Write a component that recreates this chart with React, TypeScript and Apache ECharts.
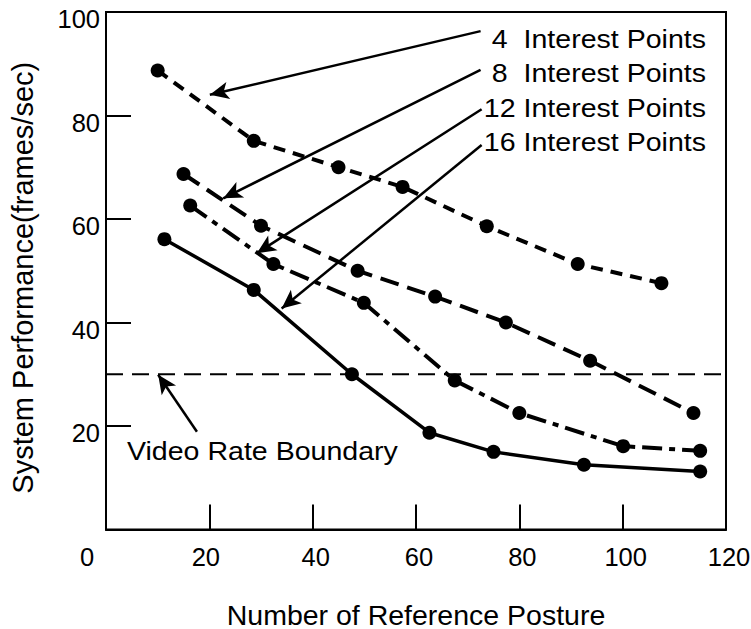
import React, { useEffect, useRef } from "react";
import * as echarts from "echarts";

// Number of reference postures (x) and frame rate (y) for each interest-point count
const x4 = [10, 28.6, 45, 57.4, 73.7, 91.3, 107.5];
const y4 = [88.7, 75.1, 70.0, 66.2, 58.6, 51.3, 47.6];

const x8 = [15, 30, 48.7, 63.7, 77.4, 93.7, 113.7];
const y8 = [68.7, 58.7, 50.0, 45.0, 40.0, 32.6, 22.5];

const x12 = [16.3, 32.4, 49.9, 67.5, 80.0, 100.1, 115.0];
const y12 = [62.6, 51.3, 43.8, 28.8, 22.5, 16.1, 15.2];

const x16 = [11.3, 28.6, 47.6, 62.6, 75.0, 92.5, 115.0];
const y16 = [56.1, 46.3, 30.0, 18.7, 15.0, 12.5, 11.2];

const seriesNames = ["4  Interest Points", "8  Interest Points", "12 Interest Points", "16 Interest Points"];

// Video rate threshold (frames/sec)
const VIDEO_RATE = 30;

// Pointer arrows: tail and tip in data units (posture count, frames/sec)
const arrowTails = [
  [72.5, 96.3],
  [72.5, 88.8],
  [72.7, 81.2],
  [72.7, 74.3],
];
const arrowTips = [
  [20.1, 84.0],
  [22.7, 64.0],
  [29.2, 53.4],
  [34.0, 42.7],
];
const boundaryArrowTail = [17.6, 18.9];
const boundaryArrowTip = [10.1, 29.9];

const xTicks = { min: 0, max: 120, interval: 20 };
const yTicks = { min: 0, max: 100, interval: 20 };

const FONT = "'Liberation Sans', Arial, Helvetica, sans-serif";

const zip = (xs: number[], ys: number[]) => xs.map((x, i) => [x, ys[i]]);

export default function App() {
  const ref = useRef<HTMLDivElement>(null);

  useEffect(() => {
    if (!ref.current) return;
    const chart = echarts.init(ref.current, undefined, { renderer: "svg" });

    const lineSeries = (name: string, data: number[][], type: any, width: number) => ({
      name,
      type: "line",
      data,
      symbol: "circle",
      symbolSize: 14,
      itemStyle: { color: "#000" },
      lineStyle: { color: "#000", width, type },
      z: 3,
    });

    const option: any = {
      animation: false,
      backgroundColor: "#fff",
      textStyle: { fontFamily: FONT, color: "#000" },
      grid: {
        left: 106,
        right: 25,
        top: 12,
        bottom: 99.5,
        containLabel: false,
        outerBoundsMode: "none",
        show: true,
        borderColor: "#000",
        borderWidth: 2,
        backgroundColor: "transparent",
      },
      xAxis: {
        type: "value",
        ...xTicks,
        name: "Number of Reference Posture",
        nameLocation: "middle",
        nameGap: 71,
        nameTextStyle: { fontSize: 28.5, lineHeight: 28, fontFamily: FONT, color: "#000" },
        axisLine: { lineStyle: { color: "#000", width: 2 } },
        axisTick: { inside: true, length: 25, lineStyle: { color: "#000", width: 2 } },
        splitLine: { show: false },
        axisLabel: {
          margin: 14,
          formatter: (v: number) => (v === 0 ? "{z|0}" : v === 20 ? "{b|20}" : `{a|${v}}`),
          rich: {
            z: { fontSize: 25.5, fontFamily: FONT, color: "#000", padding: [0, 38, 0, 0] },
            b: { fontSize: 25.5, fontFamily: FONT, color: "#000", padding: [0, 7, 0, 0] },
            a: { fontSize: 25.5, fontFamily: FONT, color: "#000", padding: [0, 0, 0, 6] },
          },
        },
      },
      yAxis: {
        type: "value",
        ...yTicks,
        name: "System Performance(frames/sec)",
        nameLocation: "middle",
        nameGap: 69,
        nameTextStyle: { fontSize: 29, fontFamily: FONT, color: "#000", padding: [0, 14, 0, 0] },
        axisLine: { show: true, lineStyle: { color: "#000", width: 2 } },
        axisTick: { show: true, inside: true, length: 25, lineStyle: { color: "#000", width: 2 } },
        splitLine: { show: false },
        axisLabel: {
          showMinLabel: false,
          margin: 6,
          fontSize: 25.5,
          fontFamily: FONT,
          color: "#000",
          verticalAlign: "top",
          lineHeight: 14,
        },
      },
      series: [
        lineSeries(seriesNames[0], zip(x4, y4), [12, 8], 4),
        lineSeries(seriesNames[1], zip(x8, y8), [19, 9], 4),
        lineSeries(seriesNames[2], zip(x12, y12), [20, 7, 6, 7], 4),
        lineSeries(seriesNames[3], zip(x16, y16), "solid", 3.5),
        {
          name: "Video Rate Boundary",
          type: "line",
          data: [
            [xTicks.min, VIDEO_RATE],
            [xTicks.max, VIDEO_RATE],
          ],
          symbol: "none",
          lineStyle: { color: "#000", width: 2, type: [17, 9] },
          z: 2,
          markLine: {
            silent: true,
            animation: false,
            symbol: ["none", "arrow"],
            symbolSize: [13, 19],
            label: { show: false },
            lineStyle: { color: "#000", width: 2.5, type: "solid" },
            data: [
              ...arrowTails.map((t, i) => [{ coord: t }, { coord: arrowTips[i] }]),
              [{ coord: boundaryArrowTail }, { coord: boundaryArrowTip }],
            ],
          },
        },
      ],
      graphic: [
        ...seriesNames.map((name, i) => ({
          type: "text",
          x: 706,
          y: 39 + i * 34.5,
          scaleX: 1.12,
          style: {
            text: name,
            fontSize: 25.5,
            fontFamily: FONT,
            fill: "#000",
            align: "right",
            verticalAlign: "middle",
          },
        })),
        {
          type: "text",
          x: 127,
          y: 451,
          scaleX: 1.12,
          style: {
            text: "Video Rate Boundary",
            fontSize: 25.5,
            fontFamily: FONT,
            fill: "#000",
            align: "left",
            verticalAlign: "middle",
          },
        },
      ],
    };

    chart.setOption(option);
    return () => chart.dispose();
  }, []);

  return (
    <div
      ref={ref}
      style={{ position: "absolute", left: 0, top: 0, width: 751, height: 629 }}
    />
  );
}
